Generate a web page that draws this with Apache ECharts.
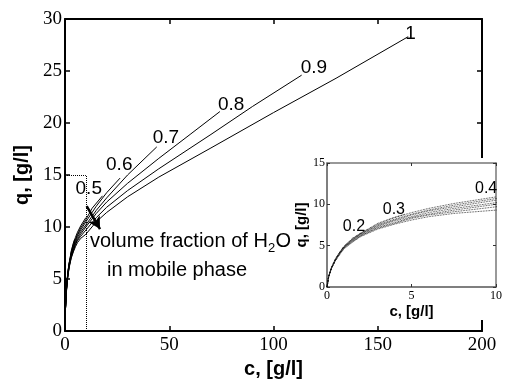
<!DOCTYPE html>
<html>
<head>
<meta charset="utf-8">
<script src="https://cdn.jsdelivr.net/npm/echarts@6/dist/echarts.min.js"></script>
<style>
  html, body { margin: 0; padding: 0; background: #fff; }
  #chart { width: 506px; height: 380px; }
</style>
</head>
<body>
<div id="chart"></div>
<script>
// volume fraction of H2O for each isotherm
const fractions = ['0.2', '0.3', '0.4', '0.5', '0.6', '0.7', '0.8', '0.9', '1'];

// isotherms: [c (g/l), q (g/l)]
const phi02 = [[0, 0], [0.1, 1.3], [0.25, 2.3], [0.5, 3.4], [0.75, 4.2], [1, 4.9], [1.5, 5.9], [2.3, 6.9]];
const phi03 = [[0, 0], [0.1, 1.3], [0.25, 2.3], [0.5, 3.4], [0.75, 4.2], [1, 4.9], [1.5, 5.8], [2, 6.5], [2.5, 7.1], [3, 7.7], [3.8, 8.3], [4.6, 8.8]];
const phi04 = [[0, 0], [0.1, 1.3], [0.25, 2.3], [0.5, 3.4], [0.75, 4.2], [1, 4.9], [1.5, 5.8], [2, 6.5], [3, 7.6], [4, 8.4], [5, 9.0], [6, 9.5], [7.5, 10.1], [10, 10.9]];
const phi05 = [[0, 0], [0.1, 1.3], [0.25, 2.2], [0.5, 3.3], [0.75, 4.1], [1, 4.8], [1.5, 5.7], [2, 6.4], [3, 7.5], [4, 8.2], [5, 8.8], [6, 9.3], [7.5, 9.9], [10, 10.7], [13, 11.8], [18, 13.0]];
const phi06 = [[0, 0], [0.1, 1.3], [0.25, 2.2], [0.5, 3.3], [0.75, 4.1], [1, 4.8], [1.5, 5.7], [2, 6.4], [3, 7.4], [4, 8.1], [5, 8.7], [6, 9.2], [7.5, 9.7], [10, 10.5], [15, 12.0], [20, 13.3], [26.4, 14.7]];
const phi07 = [[0, 0], [0.1, 1.3], [0.25, 2.2], [0.5, 3.3], [0.75, 4.1], [1, 4.8], [1.5, 5.6], [2, 6.3], [3, 7.3], [4, 8.0], [5, 8.5], [6, 9.0], [7.5, 9.5], [10, 10.2], [15, 11.6], [20, 12.8], [30, 15.0], [44, 17.7]];
const phi08 = [[0, 0], [0.1, 1.2], [0.25, 2.2], [0.5, 3.2], [0.75, 4.0], [1, 4.7], [1.5, 5.5], [2, 6.2], [3, 7.2], [4, 7.8], [5, 8.4], [6, 8.8], [7.5, 9.3], [10, 10.0], [15, 11.3], [20, 12.4], [30, 14.2], [45, 16.6], [60, 18.9], [74.3, 21.1]];
const phi09 = [[0, 0], [0.1, 1.2], [0.25, 2.2], [0.5, 3.2], [0.75, 4.0], [1, 4.7], [1.5, 5.5], [2, 6.2], [3, 7.1], [4, 7.7], [5, 8.3], [6, 8.7], [7.5, 9.1], [10, 9.7], [15, 10.9], [20, 11.9], [30, 13.5], [45, 15.6], [70, 18.9], [90, 21.6], [113.5, 24.6]];
const phi10 = [[0, 0], [0.1, 1.2], [0.25, 2.2], [0.5, 3.2], [0.75, 3.9], [1, 4.6], [1.5, 5.4], [2, 6.1], [3, 7.0], [4, 7.6], [5, 8.1], [6, 8.5], [7.5, 8.9], [10, 9.3], [15, 10.5], [20, 11.4], [30, 12.9], [45, 14.8], [70, 17.6], [100, 21.0], [130, 24.3], [164.6, 28.3]];
const curves = [phi02, phi03, phi04, phi05, phi06, phi07, phi08, phi09, phi10];

// axis ranges and ticks
const mainXTicks = [0, 50, 100, 150, 200];
const mainYTicks = [0, 5, 10, 15, 20, 25, 30];
const insetXTicks = [0, 5, 10];
const insetYTicks = [0, 5, 10, 15];

// dotted zoom box and the arrow, in data units
const zoomBox = [[[10, 0], [10, 15]], [[0, 15], [10, 15]]];
const arrow = [[10.4, 12.0], [16.8, 9.8]];

// where each label sits relative to its line end (px)
const mainLabelOffset = { '0.5': [-27, -7], '0.6': [-14, -13], '0.7': [-4, -9], '0.8': [-2, -7], '0.9': [-1, -7], '1': [-3, -3] };
const insetLabelOffset = { '0.2': [-23, -3], '0.3': [-22, -5], '0.4': [-21, -8] };

const serif = 'Liberation Serif';
const sans = 'Liberation Sans';

function axis(opt) {
  const step = opt.ticks[1] - opt.ticks[0];
  return Object.assign({
    type: 'value',
    min: opt.ticks[0],
    max: opt.ticks[opt.ticks.length - 1],
    interval: step,
    splitLine: { show: false },
    axisLine: { show: true, onZero: false, lineStyle: { color: '#000', width: 2 } },
    axisTick: { show: true, inside: true, length: 5, lineStyle: { color: '#000', width: 1.5 } },
    axisLabel: { show: true, color: '#000', fontFamily: serif, fontSize: 19 }
  }, opt.extra);
}

const mainSeries = curves.map((data, i) => {
  const name = fractions[i];
  const off = mainLabelOffset[name];
  return {
    type: 'line',
    name: 'main ' + name,
    xAxisIndex: 0,
    yAxisIndex: 0,
    data: data,
    smooth: false,
    showSymbol: false,
    silent: true,
    lineStyle: { color: '#000', width: 1 },
    endLabel: off ? {
      show: true, formatter: name, distance: 0, offset: off,
      color: '#000', fontFamily: sans, fontSize: 19
    } : { show: false },
    z: 2
  };
});

mainSeries[7].markLine = {
  silent: true, symbol: ['none', 'none'], animation: false,
  label: { show: false },
  lineStyle: { color: '#000', type: 'dotted', width: 1 },
  data: zoomBox.map(seg => [{ coord: seg[0] }, { coord: seg[1] }])
};
mainSeries[8].markLine = {
  silent: true, symbol: ['none', 'arrow'], symbolSize: [10, 12], animation: false,
  label: { show: false },
  lineStyle: { color: '#000', type: 'solid', width: 2.5 },
  data: [[{ coord: arrow[0] }, { coord: arrow[1] }]]
};

const insetSeries = curves.map((data, i) => {
  const name = fractions[i];
  const off = insetLabelOffset[name];
  return {
    type: 'line',
    name: 'inset ' + name,
    xAxisIndex: 2,
    yAxisIndex: 2,
    data: data,
    smooth: false,
    showSymbol: false,
    silent: true,
    clip: true,
    lineStyle: { color: '#111', width: 0.8, type: 'dotted' },
    endLabel: off ? {
      show: true, formatter: name, distance: 0, offset: off,
      color: '#000', fontFamily: sans, fontSize: 16
    } : { show: false },
    z: 6
  };
});

const chart = echarts.init(document.getElementById('chart'), null, { renderer: 'canvas' });
chart.setOption({
  animation: false,
  backgroundColor: '#fff',
  grid: [
    { left: 65, top: 19, width: 417, height: 312, containLabel: false, outerBoundsMode: 'none' },
    { left: 327, top: 163, width: 169, height: 124, containLabel: false, outerBoundsMode: 'none',
      show: true, backgroundColor: '#fff', borderWidth: 0, z: 4 }
  ],
  xAxis: [
    axis({ ticks: mainXTicks, extra: {
      gridIndex: 0, position: 'bottom',
      axisLabel: { color: '#000', fontFamily: serif, fontSize: 19, margin: 5 },
      name: 'c, [g/l]', nameLocation: 'middle', nameGap: 25,
      nameTextStyle: { color: '#000', fontFamily: sans, fontWeight: 'bold', fontSize: 20 }
    } }),
    axis({ ticks: mainXTicks, extra: { gridIndex: 0, position: 'top', axisLabel: { show: false } } }),
    axis({ ticks: insetXTicks, extra: {
      gridIndex: 1, position: 'bottom', z: 5,
      axisLine: { show: true, onZero: false, lineStyle: { color: '#555', width: 1.5 } },
      axisTick: { show: true, inside: true, length: 3, lineStyle: { color: '#333', width: 1 } },
      axisLabel: { color: '#000', fontFamily: serif, fontSize: 12, margin: 3 },
      name: 'c, [g/l]', nameLocation: 'middle', nameGap: 17,
      nameTextStyle: { color: '#000', fontFamily: sans, fontWeight: 'bold', fontSize: 15 }
    } }),
    axis({ ticks: insetXTicks, extra: {
      gridIndex: 1, position: 'top', z: 5,
      axisLine: { show: true, onZero: false, lineStyle: { color: '#777', width: 1.5 } },
      axisTick: { show: true, inside: true, length: 3, lineStyle: { color: '#333', width: 1 } },
      axisLabel: { show: false }
    } })
  ],
  yAxis: [
    axis({ ticks: mainYTicks, extra: {
      gridIndex: 0, position: 'left',
      axisLabel: { color: '#000', fontFamily: serif, fontSize: 19, margin: 3 },
      name: 'q, [g/l]', nameLocation: 'middle', nameGap: 31, nameRotate: 90,
      nameTextStyle: { color: '#000', fontFamily: sans, fontWeight: 'bold', fontSize: 20 }
    } }),
    axis({ ticks: mainYTicks, extra: { gridIndex: 0, position: 'right', axisLabel: { show: false } } }),
    axis({ ticks: insetYTicks, extra: {
      gridIndex: 1, position: 'left', z: 5,
      axisLine: { show: true, onZero: false, lineStyle: { color: '#555', width: 1.5 } },
      axisTick: { show: true, inside: true, length: 3, lineStyle: { color: '#333', width: 1 } },
      axisLabel: { color: '#000', fontFamily: serif, fontSize: 12, margin: 2 },
      name: 'q, [g/l]', nameLocation: 'middle', nameGap: 15, nameRotate: 90,
      nameTextStyle: { color: '#000', fontFamily: sans, fontWeight: 'bold', fontSize: 15 }
    } }),
    axis({ ticks: insetYTicks, extra: {
      gridIndex: 1, position: 'right', z: 5,
      axisLine: { show: true, onZero: false, lineStyle: { color: '#777', width: 1.5 } },
      axisTick: { show: true, inside: true, length: 3, lineStyle: { color: '#333', width: 1 } },
      axisLabel: { show: false }
    } })
  ],
  graphic: [
    // white backing that hides the main frame behind the inset
    { type: 'rect', left: 298, top: 158, z: 3, silent: true,
      shape: { width: 206, height: 162 }, style: { fill: '#fff' } },
    { type: 'text', x: 90, y: 241, z: 10, silent: true,
      style: { text: 'volume fraction of H', fill: '#000', font: '20px "Liberation Sans"', textVerticalAlign: 'middle' } },
    { type: 'text', x: 268, y: 248, z: 10, silent: true,
      style: { text: '2', fill: '#000', font: '13px "Liberation Sans"', textVerticalAlign: 'middle' } },
    { type: 'text', x: 275.5, y: 241, z: 10, silent: true,
      style: { text: 'O', fill: '#000', font: '20px "Liberation Sans"', textVerticalAlign: 'middle' } },
    { type: 'text', x: 107, y: 270, z: 10, silent: true,
      style: { text: 'in mobile phase', fill: '#000', font: '20px "Liberation Sans"', textVerticalAlign: 'middle' } }
  ],
  series: mainSeries.concat(insetSeries)
});
</script>
</body>
</html>
